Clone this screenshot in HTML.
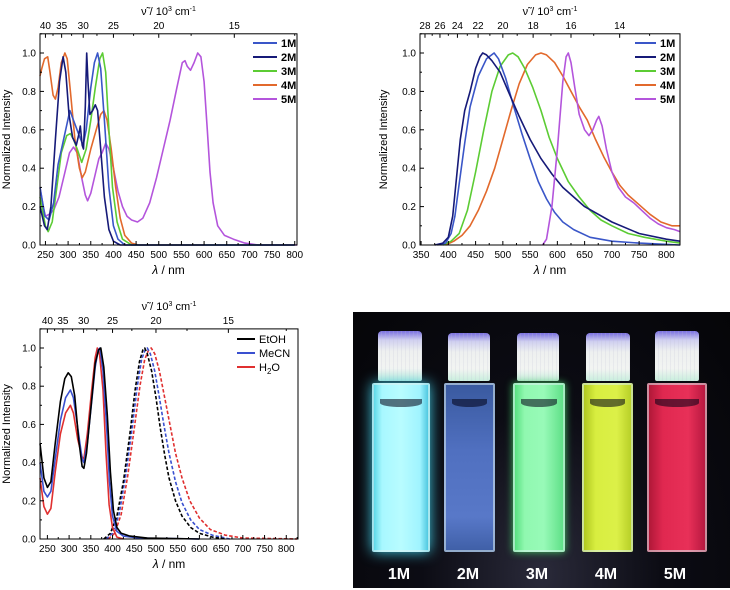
<!DOCTYPE html>
<html><head><meta charset="utf-8">
<style>
html,body{margin:0;padding:0;background:#fff;}
#root{position:relative;width:730px;height:590px;overflow:hidden;font-family:"Liberation Sans",sans-serif;}
svg text{font-family:"Liberation Sans",sans-serif;}
#photo{position:absolute;left:353px;top:312px;width:377px;height:276px;background:radial-gradient(ellipse at 50% 95%,#2a2a3a 0%,#0c0c14 45%,#050508 100%);overflow:hidden;}
.cuv{position:absolute;}
.cap{position:absolute;border-radius:4px 4px 2px 2px;background:repeating-linear-gradient(90deg,rgba(255,255,255,0.0) 0 3px,rgba(190,190,210,0.2) 3px 4px),linear-gradient(180deg,#7a70e0 0%,#d0d0f0 18%,#eef0f0 40%,#f2f4f2 75%,#c8eedd 100%);}
.body{position:absolute;border:2px solid rgba(220,240,240,0.55);border-radius:2px;}
.men{position:absolute;left:6px;right:6px;top:14px;height:8px;border-radius:0 0 50% 50%;background:rgba(0,0,20,0.55);}
.lbl{position:absolute;color:#fff;font-weight:bold;font-size:16px;text-align:center;width:60px;top:254px;}
</style></head>
<body>
<div id="root">
<svg id="chart" width="730" height="590" style="position:absolute;left:0;top:0"></svg>
<div id="photo">
  <div class="cuv" style="left:19px;top:0">
    <div class="cap" style="left:6px;top:19px;width:44px;height:50px;"></div>
    <div class="body" style="left:0;top:71px;width:54px;height:165px;background:linear-gradient(90deg,#5fd8e8 0%,#a8f8ff 15%,#b8fcff 50%,#a0f4ff 85%,#50c8e0 100%);box-shadow:0 0 14px #40c8e0;"><div class="men"></div></div>
  </div>
  <div class="cuv" style="left:91px;top:0">
    <div class="cap" style="left:4px;top:21px;width:42px;height:48px;"></div>
    <div class="body" style="left:0;top:71px;width:47px;height:165px;background:linear-gradient(180deg,#3a5aa0 0%,#5070c0 40%,#5878c8 80%,#4060a8 100%);"><div class="men"></div></div>
  </div>
  <div class="cuv" style="left:160px;top:0">
    <div class="cap" style="left:4px;top:21px;width:42px;height:48px;"></div>
    <div class="body" style="left:0;top:71px;width:48px;height:165px;background:linear-gradient(90deg,#58e080 0%,#90f8b0 20%,#98fab8 60%,#60e088 100%);box-shadow:0 0 8px #40c060;"><div class="men"></div></div>
  </div>
  <div class="cuv" style="left:229px;top:0">
    <div class="cap" style="left:4px;top:21px;width:44px;height:48px;"></div>
    <div class="body" style="left:0;top:71px;width:47px;height:165px;background:linear-gradient(90deg,#b0c820 0%,#d8ee40 25%,#dcf048 70%,#b8d028 100%);"><div class="men"></div></div>
  </div>
  <div class="cuv" style="left:294px;top:0">
    <div class="cap" style="left:8px;top:19px;width:44px;height:50px;"></div>
    <div class="body" style="left:0;top:71px;width:56px;height:165px;background:linear-gradient(90deg,#b01838 0%,#e02850 25%,#e83058 70%,#b81840 100%);"><div class="men"></div></div>
  </div>
  <div class="lbl" style="left:16px">1M</div>
  <div class="lbl" style="left:85px">2M</div>
  <div class="lbl" style="left:154px">3M</div>
  <div class="lbl" style="left:223px">4M</div>
  <div class="lbl" style="left:292px">5M</div>
</div>
</div>
<script>
// ---- Panel A (absorption) data ----
const absNames = ["1M","2M","3M","4M","5M"];
const abs1M = [[238,0.3],[249,0.15],[258,0.13],[268,0.22],[278,0.42],[290,0.55],[304,0.7],[315,0.63],[326,0.56],[333,0.52],[340,0.6],[350,0.82],[358,0.95],[365,1.0],[372,0.92],[380,0.65],[390,0.3],[400,0.1],[410,0.03],[425,0],[800,0]];
const abs2M = [[238,0.2],[248,0.1],[254,0.08],[262,0.2],[272,0.55],[281,0.85],[289,0.98],[295,0.9],[302,0.68],[310,0.56],[318,0.52],[324,0.58],[327,0.62],[331,0.52],[334,0.5],[338,0.72],[341,1.0],[344,0.85],[348,0.68],[354,0.7],[360,0.73],[365,0.7],[372,0.5],[380,0.25],[390,0.08],[400,0.02],[415,0],[800,0]];
const abs3M = [[238,0.25],[250,0.1],[256,0.07],[265,0.12],[275,0.3],[285,0.48],[297,0.57],[305,0.58],[312,0.55],[320,0.5],[330,0.43],[340,0.5],[350,0.65],[360,0.82],[370,0.97],[376,1.0],[383,0.9],[390,0.6],[398,0.3],[408,0.12],[420,0.03],[440,0],[800,0]];
const abs4M = [[238,0.88],[242,0.92],[248,0.97],[255,0.98],[260,0.9],[267,0.78],[272,0.76],[278,0.82],[285,0.95],[293,1.0],[298,0.97],[305,0.8],[315,0.55],[325,0.4],[331,0.35],[338,0.38],[350,0.5],[362,0.6],[372,0.68],[379,0.7],[386,0.65],[395,0.5],[405,0.3],[415,0.14],[425,0.05],[440,0.01],[455,0],[600,0]];
const abs5M = [[238,0.3],[245,0.2],[250,0.15],[258,0.16],[268,0.18],[280,0.25],[292,0.37],[303,0.48],[312,0.51],[320,0.48],[330,0.35],[338,0.26],[343,0.23],[350,0.27],[360,0.37],[368,0.45],[375,0.48],[383,0.53],[390,0.5],[400,0.4],[410,0.28],[420,0.2],[430,0.15],[440,0.13],[453,0.12],[465,0.14],[480,0.22],[495,0.35],[510,0.5],[525,0.65],[540,0.82],[552,0.95],[558,0.96],[563,0.93],[570,0.91],[578,0.95],[586,1.0],[593,0.98],[600,0.85],[607,0.6],[613,0.38],[620,0.22],[630,0.1],[645,0.05],[665,0.03],[690,0.01],[720,0],[805,0]];
// ---- Panel B (emission) data ----
const em1M = [[380,0],[395,0.01],[405,0.06],[412,0.15],[420,0.32],[430,0.53],[440,0.72],[455,0.88],[470,0.97],[484,1.0],[492,0.97],[505,0.87],[520,0.72],[535,0.58],[550,0.45],[565,0.33],[580,0.24],[595,0.17],[610,0.12],[630,0.08],[660,0.04],[700,0.02],[750,0.01],[825,0]];
const em2M = [[375,0],[390,0.01],[400,0.04],[408,0.15],[415,0.35],[422,0.55],[430,0.7],[440,0.8],[450,0.92],[458,0.98],[463,1.0],[470,0.99],[480,0.96],[495,0.9],[510,0.8],[530,0.67],[550,0.55],[570,0.45],[590,0.37],[610,0.3],[630,0.25],[650,0.2],[700,0.12],[750,0.06],[800,0.03],[825,0.02]];
const em3M = [[390,0],[405,0.02],[420,0.06],[435,0.18],[450,0.38],[465,0.6],[480,0.8],[495,0.93],[510,0.99],[518,1.0],[528,0.98],[540,0.92],[555,0.82],[570,0.7],[585,0.56],[600,0.45],[620,0.33],[640,0.25],[660,0.18],[680,0.13],[700,0.1],[730,0.06],[760,0.04],[800,0.02],[825,0.01]];
const em4M = [[395,0],[410,0.02],[425,0.05],[440,0.1],[455,0.18],[470,0.28],[485,0.4],[500,0.55],[515,0.7],[530,0.84],[545,0.94],[560,0.99],[570,1.0],[580,0.99],[595,0.95],[610,0.88],[625,0.8],[640,0.72],[655,0.65],[670,0.55],[685,0.46],[700,0.38],[715,0.31],[730,0.26],[750,0.21],[770,0.16],[790,0.12],[810,0.1],[825,0.1]];
const em5M = [[573,0],[580,0.03],[590,0.2],[600,0.5],[610,0.85],[616,0.98],[620,1.0],[625,0.95],[632,0.82],[640,0.68],[650,0.6],[658,0.57],[665,0.6],[672,0.65],[676,0.67],[682,0.62],[690,0.5],[700,0.38],[712,0.3],[725,0.25],[740,0.22],[755,0.18],[770,0.14],[785,0.11],[800,0.09],[815,0.08],[825,0.07]];
// ---- Panel C (solvents) data ----
const solvNames = ["EtOH","MeCN","H2O"];
const absEtOH = [[233,0.5],[242,0.32],[250,0.27],[258,0.3],[268,0.5],[280,0.72],[290,0.84],[298,0.87],[305,0.85],[313,0.75],[322,0.52],[330,0.38],[334,0.37],[340,0.45],[350,0.68],[360,0.92],[368,0.99],[373,1.0],[380,0.9],[388,0.65],[395,0.35],[402,0.15],[410,0.06],[420,0.03],[440,0.015],[480,0.005],[600,0]];
const absMeCN = [[233,0.4],[242,0.25],[250,0.22],[258,0.25],[268,0.42],[280,0.62],[292,0.74],[303,0.78],[310,0.74],[320,0.58],[330,0.42],[334,0.4],[342,0.5],[352,0.72],[360,0.9],[367,0.99],[371,1.0],[378,0.88],[386,0.6],[393,0.3],[400,0.12],[410,0.04],[425,0.015],[460,0.005],[600,0]];
const absH2O = [[233,0.32],[242,0.17],[250,0.13],[258,0.16],[268,0.35],[280,0.55],[292,0.66],[303,0.7],[310,0.66],[320,0.52],[330,0.43],[334,0.42],[342,0.55],[352,0.78],[360,0.95],[365,1.0],[370,0.97],[378,0.78],[385,0.45],[392,0.18],[400,0.06],[410,0.01],[425,0]];
const emEtOH = [[380,0],[395,0.03],[410,0.12],[425,0.3],[440,0.55],[452,0.78],[462,0.93],[470,0.99],[474,1.0],[480,0.97],[490,0.88],[500,0.74],[510,0.58],[520,0.44],[530,0.32],[545,0.2],[560,0.12],[580,0.06],[600,0.03],[630,0.01],[660,0]];
const emMeCN = [[385,0],[400,0.03],[415,0.13],[430,0.33],[445,0.58],[457,0.8],[467,0.94],[475,0.99],[480,1.0],[487,0.97],[497,0.88],[508,0.74],[518,0.6],[530,0.45],[545,0.3],[560,0.19],[580,0.1],[600,0.05],[630,0.02],[670,0]];
const emH2O = [[390,0],[405,0.03],[420,0.13],[435,0.33],[450,0.58],[463,0.8],[474,0.94],[483,0.99],[489,1.0],[497,0.97],[508,0.88],[520,0.74],[532,0.6],[545,0.45],[560,0.32],[578,0.2],[600,0.11],[625,0.05],[660,0.02],[700,0.005],[825,0]];
// ---- tick labels ----
const yTicks = [0,0.2,0.4,0.6,0.8,1.0];
const xTicksA = [250,300,350,400,450,500,550,600,650,700,750,800];
const xTicksB = [350,400,450,500,550,600,650,700,750,800];
const topTicksA = [40,35,30,25,20,15];
const topTicksB = [28,26,24,22,20,18,16,14];

const NS = "http://www.w3.org/2000/svg";
const svg = document.getElementById("chart");
function mk(tag, attrs, parent){const e=document.createElementNS(NS,tag);for(const k in attrs)e.setAttribute(k,attrs[k]);(parent||svg).appendChild(e);return e;}

function panel(o){
  const g = mk("g",{});
  
  
  const X = nm => o.left + (nm - o.xmin)*(o.right-o.left)/(o.xmax-o.xmin);
  const Y = v => o.y0 + (o.y1 - o.y0)*v;
  const top = Y(1.1);
  o.series.forEach(s=>{
    const d = s.data.filter(p=>p[0]>=o.xmin&&p[0]<=o.xmax).map((p,i)=>(i?"L":"M")+X(p[0]).toFixed(1)+","+Y(p[1]).toFixed(1)).join("");
    const p = mk("path",{d:d,fill:"none",stroke:s.color,"stroke-width":1.6,"stroke-linejoin":"round"},g);
    if(s.dash) p.setAttribute("stroke-dasharray","3.5,2");
    
    
  });
  const fr = mk("rect",{x:o.left,y:top,width:o.right-o.left,height:o.y0-top,fill:"none",stroke:"#000","stroke-width":1},g);
  
  
  yTicks.forEach(v=>{
    mk("line",{x1:o.left,x2:o.left+4,y1:Y(v),y2:Y(v),stroke:"#000"},g);
    const t = mk("text",{x:o.left-4,y:Y(v)+3.5,"font-size":10,"text-anchor":"end"},g);
    t.textContent = v.toFixed(1);
    
    
    mk("line",{x1:o.left,x2:o.left+2,y1:Y(v+0.1),y2:Y(v+0.1),stroke:"#000"},g);
  });
  o.xticks.forEach(v=>{
    mk("line",{x1:X(v),x2:X(v),y1:o.y0,y2:o.y0-4,stroke:"#000"},g);
    if(v+25<=o.xmax) mk("line",{x1:X(v+25),x2:X(v+25),y1:o.y0,y2:o.y0-2,stroke:"#000"},g);
    const t = mk("text",{x:X(v),y:o.y0+13,"font-size":10,"text-anchor":"middle"},g);
    t.textContent = v;
    
    
  });
  o.topticks.forEach(k=>{
    const nm = 1e4/k;
    mk("line",{x1:X(nm),x2:X(nm),y1:top,y2:top+4,stroke:"#000"},g);
    const t = mk("text",{x:X(nm),y:top-5,"font-size":10,"text-anchor":"middle"},g);
    t.textContent = k;
    
    
    const km = k - o.topStep/2, nm2 = 1e4/km;
    if(nm2<=o.xmax) mk("line",{x1:X(nm2),x2:X(nm2),y1:top,y2:top+2,stroke:"#000"},g);
  });
  const cx = (o.left+o.right)/2;
  const xt = mk("text",{x:cx,y:o.y0+29,"font-size":12,"text-anchor":"middle"},g);
  xt.innerHTML = '<tspan font-style="italic">λ</tspan> / nm';
  
  
  const tt = mk("text",{x:cx,y:top-19,"font-size":11,"text-anchor":"middle"},g);
  tt.innerHTML = 'ν̃ / 10<tspan dy="-4" font-size="7">3</tspan><tspan dy="4"> cm</tspan><tspan dy="-4" font-size="7">-1</tspan>';
  
  
  const yc = (top+o.y0)/2;
  const yt = mk("text",{x:o.ytx,y:yc,"font-size":11,"text-anchor":"middle",transform:`rotate(-90 ${o.ytx} ${yc})`},g);
  yt.textContent = "Normalized Intensity";
  
  
  o.legend.forEach((L,i)=>{
    const y = o.legY + i*o.legDy;
    const ln = mk("line",{x1:o.legX,x2:o.legX+o.legW,y1:y,y2:y,stroke:L.color,"stroke-width":2},g);
    
    
    const t = mk("text",{x:o.legX+o.legW+4,y:y+4,"font-size":11,"font-weight":o.legBold?"bold":"normal"},g);
    t.innerHTML = L.label;
    
    
  });
}
const C = {"1M":"#3a56c8","2M":"#161a78","3M":"#5ccc34","4M":"#e2692c","5M":"#b455dc"};
panel({name:"absorption-chart",left:40,right:297,xmin:238,xmax:805,y0:245,y1:53,xticks:xTicksA,topticks:topTicksA,topStep:5,ytx:10,
  series:[{id:"abs-5M",data:abs5M,color:C["5M"]},{id:"abs-4M",data:abs4M,color:C["4M"]},{id:"abs-3M",data:abs3M,color:C["3M"]},{id:"abs-1M",data:abs1M,color:C["1M"]},{id:"abs-2M",data:abs2M,color:C["2M"]}],
  legend:absNames.map(n=>({label:n,color:C[n]})),legX:253,legW:24,legY:43,legDy:14,legBold:true});
panel({name:"emission-chart",left:420,right:680,xmin:348,xmax:825,y0:245,y1:53,xticks:xTicksB,topticks:topTicksB,topStep:2,ytx:387,
  series:[{id:"em-4M",data:em4M,color:C["4M"]},{id:"em-3M",data:em3M,color:C["3M"]},{id:"em-1M",data:em1M,color:C["1M"]},{id:"em-2M",data:em2M,color:C["2M"]},{id:"em-5M",data:em5M,color:C["5M"]}],
  legend:absNames.map(n=>({label:n,color:C[n]})),legX:635,legW:21,legY:43,legDy:14,legBold:true});
const S = {EtOH:"#000000",MeCN:"#3a50d0",H2O:"#e03030"};
panel({name:"solvent-chart",left:40,right:298,xmin:233,xmax:827,y0:539,y1:348,xticks:xTicksA,topticks:topTicksA,topStep:5,ytx:10,
  series:[{id:"em-h2o",data:emH2O,color:S.H2O,dash:true},{id:"em-mecn",data:emMeCN,color:S.MeCN,dash:true},{id:"em-etoh",data:emEtOH,color:S.EtOH,dash:true},
          {id:"abs-h2o",data:absH2O,color:S.H2O},{id:"abs-mecn",data:absMeCN,color:S.MeCN},{id:"abs-etoh",data:absEtOH,color:S.EtOH}],
  legend:[{label:"EtOH",color:S.EtOH},{label:"MeCN",color:S.MeCN},{label:'H<tspan dy="3" font-size="8">2</tspan><tspan dy="-3">O</tspan>',color:S.H2O}],
  legX:237,legW:18,legY:339,legDy:14,legBold:false});
</script>
</body></html>
